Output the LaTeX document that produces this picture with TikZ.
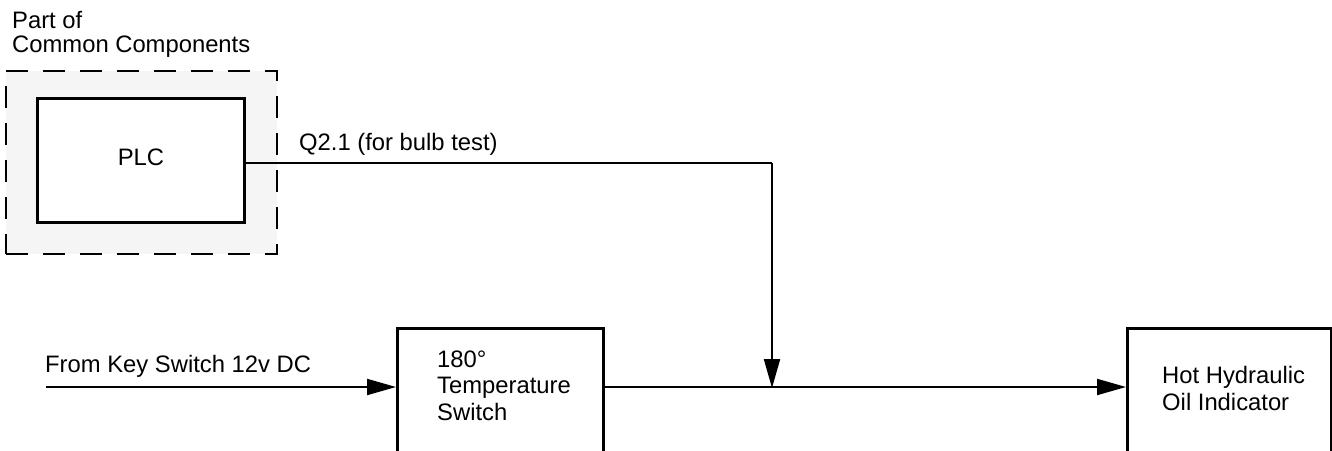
\documentclass[tikz,border=0pt]{standalone}
\usepackage{fontspec}
\setmainfont{Liberation Sans}
\usetikzlibrary{arrows.meta}
\definecolor{groupfill}{RGB}{245,245,245}
\begin{document}
\begin{tikzpicture}[x=1pt,y=-1pt,
  every node/.style={font=\fontsize{23.8pt}{26pt}\selectfont},
  groupbox/.style={draw, fill=groupfill, line width=2pt, dash pattern=on 22pt off 15pt,
    rectangle, anchor=north west, inner sep=0pt},
  unitbox/.style={draw, fill=white, line width=3pt, rectangle, anchor=north west, inner sep=0pt},
  txt/.style={anchor=base west, inner sep=0pt},
  wire/.style={line width=2pt},
  flow/.style={wire, -{Triangle[length=29pt,width=16pt]}}]
\useasboundingbox (0,0) rectangle (1332,450);
\clip (0,0) rectangle (1332,450);

% common-components group with the PLC inside
\node[groupbox, minimum width=271pt, minimum height=183pt] (group) at (5,70) {};
\node[unitbox, minimum width=207pt, minimum height=124pt] (plc) at (36,97) {};
\node at (plc.center) (plctext) [yshift=3pt] {PLC};
\node[txt] (part1) at (12,28) {Part of};
\node[txt] (part2) at (12,52) {Common Components};

% temperature switch and indicator (running past the lower edge)
\node[unitbox, minimum width=206pt, minimum height=150pt] (tsw) at (396,327) {};
\node[txt] (tsw1) at (437,367) {180°};
\node[txt] (tsw2) at (437,393) {Temperature};
\node[txt] (tsw3) at (437,420) {Switch};

\node[unitbox, minimum width=204pt, minimum height=150pt] (ind) at (1126,327) {};
\node[txt] (ind1) at (1162,383) {Hot Hydraulic};
\node[txt] (ind2) at (1162,410) {Oil Indicator};

% wiring
\coordinate (feed) at (46,387);
\coordinate (plcout) at (plc.east |- 0,163);
\coordinate (bend) at (772,163);
\coordinate (join) at (772,387);

\node[txt] (feedlabel) at (45,372) {From Key Switch 12v DC};
\node[txt] (q21) at (299,150) {Q2.1 (for bulb test)};

\draw[flow] (feed) -- (tsw.west |- feed);
\draw[wire] (plcout) -- (bend);
\draw[flow] (bend) -- ([yshift=-1pt]join);
\draw[flow] (tsw.east |- join) -- (ind.west |- join);
\end{tikzpicture}
\end{document}
